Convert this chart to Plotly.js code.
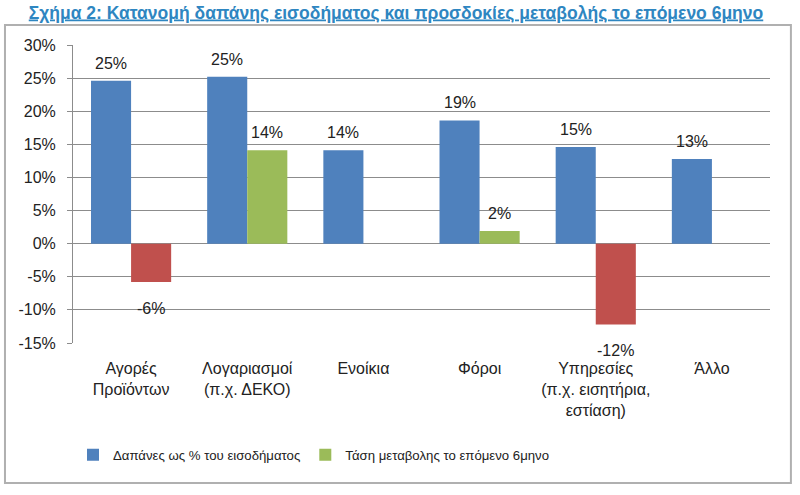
<!DOCTYPE html>
<html>
<head>
<meta charset="utf-8">
<script src="https://cdn.plot.ly/plotly-3.0.1.min.js"></script>
<style>html,body{margin:0;padding:0;background:#fff;}#chart{width:800px;height:495px;}</style>
</head>
<body>
<div id="chart"></div>
<script>
// ---- data ----
const categories = ["Αγορές<br>Προϊόντων", "Λογαριασμοί<br>(π.χ. ΔΕΚΟ)", "Ενοίκια", "Φόροι", "Υπηρεσίες<br>(π.χ. εισητήρια,<br>εστίαση)", "Άλλο"];
const spending = [24.6, 25.2, 14.1, 18.6, 14.6, 12.8];
const change = [-5.8, 14.1, null, 1.9, -12.2, null];
const yTicks = [-15, -10, -5, 0, 5, 10, 15, 20, 25, 30];
const seriesNames = ["Δαπάνες ως % του εισοδήματος", "Τάση μεταβολης το επόμενο 6μηνο"];
const titleText = "Σχήμα 2: Κατανομή δαπάνης εισοδήματος και προσδοκίες μεταβολής το επόμενο 6μηνο";

// ---- derived ----
const changePos = change.map(v => (v !== null && v >= 0) ? v : null);
const changeNeg = change.map(v => (v !== null && v < 0) ? v : null);

const FONT = "Liberation Sans, Arial, sans-serif";
const BLUE = "#4F81BD", GREEN = "#9BBB59", RED = "#C0504D";
const GRID = "#8c8c8c";
const BARGAP = 0.31;
const half = (1 - BARGAP) / 4; // center offset of each of the two bars in a group

const traces = [
  {type: "bar", x: categories, y: spending, name: seriesNames[0], offsetgroup: "a",
   marker: {color: BLUE}, hoverinfo: "skip"},
  {type: "bar", x: categories, y: changePos, name: seriesNames[1], offsetgroup: "b",
   marker: {color: GREEN}, hoverinfo: "skip"},
  {type: "bar", x: categories, y: changeNeg, name: seriesNames[1], offsetgroup: "b",
   marker: {color: RED}, showlegend: false, hoverinfo: "skip"}
];

const annotations = [];
function addLabels(values, offset) {
  values.forEach((v, i) => {
    if (v === null) return;
    annotations.push({
      xref: "x", yref: "y", x: i + offset, y: v,
      text: Math.round(v) + "%", showarrow: false,
      yanchor: v >= 0 ? "bottom" : "top", yshift: v >= 0 ? 7 : -16,
      font: {family: FONT, size: 16, color: "#222"}
    });
  });
}
addLabels(spending, -half);
addLabels(change, half);

const layout = {
  width: 800, height: 495,
  margin: {l: 73, r: 30, t: 45, b: 152},
  paper_bgcolor: "#fff", plot_bgcolor: "#fff",
  font: {family: FONT, size: 16, color: "#222"},
  title: {text: titleText, xref: "container", x: 0.495, xanchor: "center", yref: "container", y: 0.975, yanchor: "middle",
          font: {family: FONT, size: 17.5, weight: "bold", color: "#2E86C1", lineposition: "under"}},
  barmode: "group", bargap: BARGAP, bargroupgap: 0,
  xaxis: {type: "category", showline: false, ticks: "", showgrid: false, zeroline: false,
          tickfont: {size: 16, color: "#222"}, ticklabelstandoff: 14, fixedrange: true},
  xaxis2: {overlaying: "x", anchor: "free", position: 15 / 45, type: "linear", range: [-0.5, 5.5],
           tickmode: "linear", tick0: -0.5, dtick: 1, ticks: "outside", ticklen: 5, tickcolor: GRID,
           showline: true, linecolor: GRID, linewidth: 1, showgrid: false, zeroline: false, showticklabels: false},
  yaxis: {range: [-15, 30], tickmode: "array", tickvals: yTicks, ticktext: yTicks.map(v => v + "%"),
          showgrid: true, gridcolor: GRID, gridwidth: 1, showline: true, linecolor: GRID, linewidth: 1,
          ticks: "outside", ticklen: 5, tickcolor: GRID, zeroline: false,
          tickfont: {size: 16, color: "#222"}, ticklabelstandoff: 8},
  legend: {orientation: "h", x: 0.0, xanchor: "left", y: -0.376, yanchor: "middle",
           font: {size: 13.2, color: "#222"}, traceorder: "normal", bgcolor: "rgba(0,0,0,0)"},
  annotations: annotations,
  shapes: [{type: "rect", xref: "paper", yref: "paper", x0: -0.0976, x1: 1.030, y0: -0.4698, y1: 1.067,
            line: {color: "#b0b0b0", width: 2}, fillcolor: "rgba(0,0,0,0)", layer: "below"}],
  showlegend: true
};

Plotly.newPlot("chart", traces, layout, {staticPlot: true, displayModeBar: false});
</script>
</body>
</html>
